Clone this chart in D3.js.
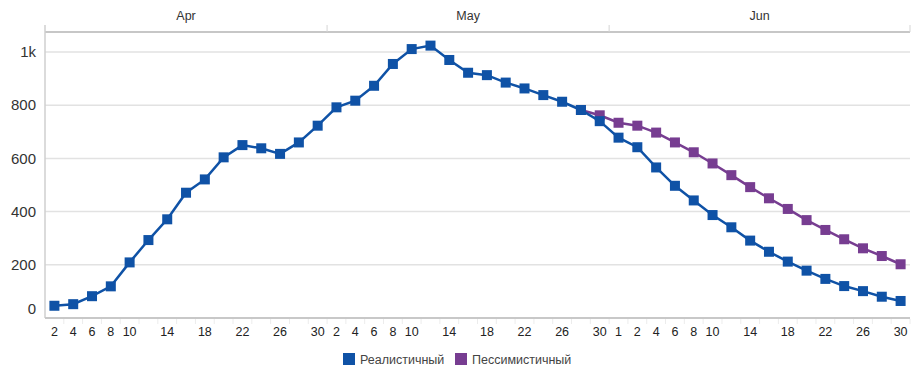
<!DOCTYPE html>
<html>
<head>
    <meta charset="utf-8" />
    <title>Chart</title>
    <script src="https://cdnjs.cloudflare.com/ajax/libs/d3/7.8.5/d3.min.js"></script>
    <style>
      body { margin: 0; background: #fff; }
      text { font-family: Arial, "Liberation Sans", sans-serif; }
    </style>
</head>
<body>
  <svg id="chart" width="921" height="369"></svg>
  <script>
    const months = ["Apr", "May", "Jun"]
    const dates = [
      "04-02","04-04","04-06","04-08","04-10","04-12","04-14","04-16","04-18","04-20","04-22","04-24","04-26","04-28","04-30",
      "05-02","05-04","05-06","05-08","05-10","05-12","05-14","05-16","05-18","05-20","05-22","05-24","05-26","05-28","05-30",
      "06-01","06-02","06-04","06-06","06-08","06-10","06-12","06-14","06-16","06-18","06-20","06-22","06-24","06-26","06-28","06-30"
    ]
    const shownDays = [1, 2, 4, 6, 8, 10, 14, 18, 22, 26, 30]
    const realistic = [46,52,82,119,209,293,371,471,521,604,650,638,617,660,723,
      792,817,873,955,1011,1024,970,922,913,885,863,838,813,782,740,
      678,642,566,497,442,387,341,291,249,212,178,147,120,101,80,64]
    const pessimistic = [null,null,null,null,null,null,null,null,null,null,null,null,null,null,null,
      null,null,null,null,null,null,null,null,null,null,null,null,null,782,762,
      734,723,697,660,623,581,537,492,450,410,368,331,296,262,233,202]
    const yTicks = [0, 200, 400, 600, 800, 1000]
    const seriesNames = ["Реалистичный", "Пессимистичный"]
    const colors = ["#0f52a6", "#773d91"]

    const svg = d3.select('#chart')
    const pLeft = 45, pRight = 910, pTop = 32, pBottom = 318

    let x = d3.scalePoint().domain(dates).range([pLeft, pRight]).padding(0.5)
    let y = d3.scaleLinear().domain([0, 1000]).range([pBottom, 52])
    let step = x.step()

    // gridlines
    svg.append('g').selectAll('line')
      .data(yTicks.filter(d => d > 0))
      .enter().append('line')
      .attr('x1', pLeft).attr('x2', pRight)
      .attr('y1', d => y(d)).attr('y2', d => y(d))
      .style('stroke', '#e2e2e2').style('stroke-width', '1.5px')

    // frame
    svg.append('line').attr('x1', pLeft).attr('x2', pRight).attr('y1', pTop).attr('y2', pTop)
      .style('stroke', '#b5b5b5').style('stroke-width', '1.5px')
    svg.append('line').attr('x1', pLeft).attr('x2', pLeft).attr('y1', pTop - 7).attr('y2', pBottom)
      .style('stroke', '#cfcfcf').style('stroke-width', '1.5px')
    svg.append('line').attr('x1', pLeft).attr('x2', pRight).attr('y1', pBottom).attr('y2', pBottom)
      .style('stroke', '#c8c8c8').style('stroke-width', '2px')

    // month header
    let monthBounds = months.map((m, i) => {
      let key = String(i + 4).padStart(2, '0')
      let ds = dates.filter(d => d.startsWith(key))
      let x0 = i === 0 ? pLeft : x(ds[0]) - step / 2
      let x1 = i === months.length - 1 ? pRight : x(ds[ds.length - 1]) + step / 2
      return { m, x0, x1 }
    })
    monthBounds.forEach(b => {
      svg.append('line').attr('x1', b.x1).attr('x2', b.x1).attr('y1', pTop - 7).attr('y2', pTop)
        .style('stroke', '#d5d5d5').style('stroke-width', '1px')
      svg.append('text').attr('x', (b.x0 + b.x1) / 2).attr('y', 20)
        .attr('text-anchor', 'middle').style('font-size', '12.5px').style('fill', '#333')
        .text(b.m)
    })

    // y axis labels
    svg.append('g').selectAll('text')
      .data(yTicks)
      .enter().append('text')
      .attr('x', 36)
      .attr('y', d => d === 0 ? y(d) - 9 : y(d))
      .attr('dy', '0.35em')
      .attr('text-anchor', 'end')
      .style('font-size', '15px').style('fill', '#333')
      .text(d => d >= 1000 ? (d / 1000) + 'k' : d)

    // x ticks and labels
    svg.append('g').selectAll('line')
      .data(dates)
      .enter().append('line')
      .attr('x1', d => x(d) + step / 2).attr('x2', d => x(d) + step / 2)
      .attr('y1', pBottom + 1).attr('y2', pBottom + 6)
      .style('stroke', '#ececec')
    svg.append('g').selectAll('text')
      .data(dates.filter(d => shownDays.includes(+d.slice(3))))
      .enter().append('text')
      .attr('x', d => x(d))
      .attr('y', 336)
      .attr('text-anchor', 'middle')
      .style('font-size', '12.5px').style('fill', '#222')
      .text(d => +d.slice(3))

    // series: pessimistic below realistic
    let series = [
      { name: seriesNames[1], values: pessimistic, color: colors[1] },
      { name: seriesNames[0], values: realistic, color: colors[0] }
    ]
    let line = d3.line()
      .defined(d => d.v != null)
      .x(d => x(d.date)).y(d => y(d.v))

    series.forEach(s => {
      let pts = dates.map((date, i) => ({ date, v: s.values[i] }))
      svg.append('path').datum(pts)
        .attr('d', line)
        .style('fill', 'none').style('stroke', s.color).style('stroke-width', '2.5px')
      svg.append('g').selectAll('rect')
        .data(pts.filter(d => d.v != null))
        .enter().append('rect')
        .attr('x', d => x(d.date) - 5).attr('y', d => y(d.v) - 5)
        .attr('width', 10).attr('height', 10)
        .style('fill', s.color)
    })

    // legend
    let legend = svg.append('g')
    ;[{ name: seriesNames[0], color: colors[0], lx: 343 }, { name: seriesNames[1], color: colors[1], lx: 455 }]
      .forEach(l => {
        legend.append('rect').attr('x', l.lx).attr('y', 353).attr('width', 12).attr('height', 12)
          .style('fill', l.color)
        legend.append('text').attr('x', l.lx + 17).attr('y', 363.5)
          .style('font-size', '12.5px').style('fill', '#444')
          .text(l.name)
      })
  </script>
</body>
</html>
